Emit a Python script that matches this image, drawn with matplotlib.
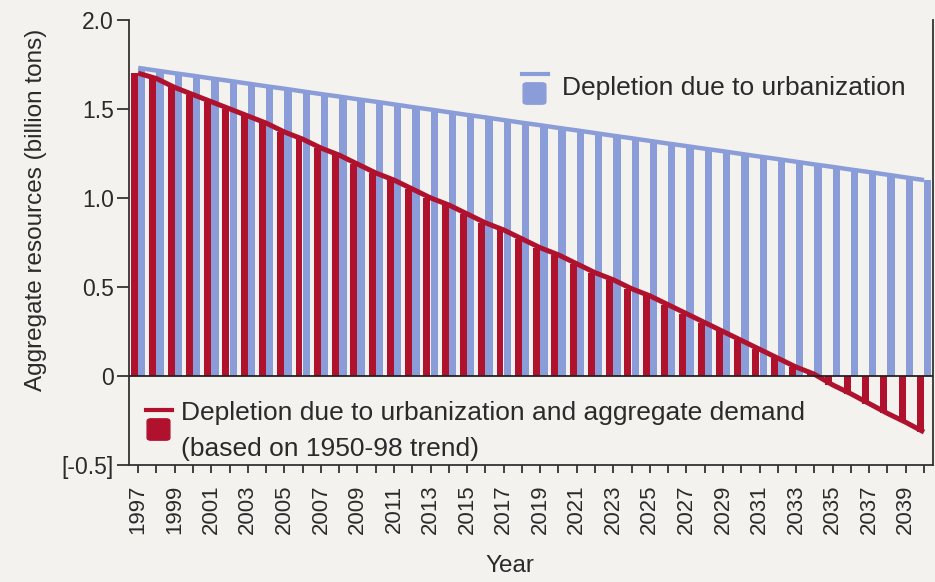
import matplotlib
matplotlib.use("Agg")
import matplotlib.pyplot as plt
from matplotlib.patches import FancyBboxPatch
import numpy as np

plt.rcParams['font.family'] = ['Liberation Sans', 'DejaVu Sans']

years = list(range(1997, 2041))
urbanization = [1.73, 1.715, 1.70, 1.686, 1.671, 1.657, 1.642, 1.627, 1.613, 1.598,
                1.583, 1.569, 1.554, 1.540, 1.525, 1.510, 1.496, 1.481, 1.466, 1.452,
                1.437, 1.422, 1.408, 1.393, 1.379, 1.364, 1.349, 1.335, 1.320, 1.305,
                1.291, 1.276, 1.262, 1.247, 1.232, 1.218, 1.203, 1.188, 1.174, 1.159,
                1.145, 1.130, 1.115, 1.10]
urban_demand = [1.70, 1.67, 1.62, 1.58, 1.54, 1.50, 1.46, 1.42, 1.37, 1.33,
                1.28, 1.24, 1.19, 1.14, 1.10, 1.05, 1.00, 0.96, 0.91, 0.86,
                0.82, 0.77, 0.72, 0.68, 0.63, 0.58, 0.54, 0.49, 0.45, 0.40,
                0.35, 0.30, 0.25, 0.20, 0.15, 0.10, 0.05, 0.01, -0.05, -0.10,
                -0.155, -0.21, -0.26, -0.315]
ytick_vals = [-0.5, 0, 0.5, 1.0, 1.5, 2.0]
ytick_labels = ['[-0.5]', '0', '0.5', '1.0', '1.5', '2.0']

BLUE = '#8b9dd8'
RED = '#b0122e'
BG = '#f3f2ee'
TXT = '#2a2a2a'

fig = plt.figure(figsize=(9.35, 5.82), dpi=100, facecolor=BG)
ax = fig.add_axes([0.138, 0.201, 0.860, 0.765], facecolor=BG)

x = np.array(years, dtype=float)
ax.bar(x + 0.2, urbanization, width=0.40, color=BLUE, zorder=2, linewidth=0)
ax.bar(x - 0.2, urban_demand, width=0.38, color=RED, zorder=3, linewidth=0)
ax.plot(x, urbanization, color=BLUE, lw=3.2, zorder=4, solid_capstyle='butt')
ax.plot(x, urban_demand, color=RED, lw=3.6, zorder=5, solid_capstyle='butt')
ax.axhline(0, color='#222222', lw=1.3, zorder=6)

ax.set_xlim(1996.5, 2040.5)
ax.set_ylim(-0.5, 2.0)

ax.spines['top'].set_visible(False)
for s in ['left', 'bottom', 'right']:
    ax.spines[s].set_color('#333333')
    ax.spines[s].set_linewidth(1.3)

ax.set_yticks(ytick_vals)
ax.set_yticklabels(ytick_labels, fontsize=16.5, color=TXT)
ax.tick_params(axis='y', direction='out', length=9, width=1.3, color='#333333', pad=2)

ax.set_xticks(years)
ax.set_xticklabels([str(y) if y % 2 == 1 else '' for y in years],
                   rotation=90, fontsize=16, color=TXT)
ax.tick_params(axis='x', direction='out', length=6, width=1.3, color='#333333', pad=8)

ax.set_ylabel('Aggregate resources (billion tons)', fontsize=17.5, color=TXT)
ax.yaxis.set_label_coords(-0.102, 0.573)
ax.set_xlabel('Year', fontsize=17.5, color=TXT)
ax.xaxis.set_label_coords(0.474, -0.202)

# Legend markers (line over rounded square)
def legend_marker(xpix, ypix, color):
    W, H = 935.0, 582.0
    fig.add_artist(plt.Line2D([xpix / W, (xpix + 26) / W], [1 - ypix / H, 1 - ypix / H],
                              color=color, lw=3, transform=fig.transFigure))
    fig.add_artist(FancyBboxPatch(((xpix + 3) / W, 1 - (ypix + 29) / H), 19 / W, 19 / H,
                                  boxstyle='round,pad=0.002,rounding_size=0.004',
                                  facecolor=color, edgecolor=color, transform=fig.transFigure))

legend_marker(522, 74, BLUE)
fig.text(562 / 935, 1 - 88 / 582, 'Depletion due to urbanization', fontsize=19,
         color=TXT, va='center', ha='left')

legend_marker(146, 410, RED)
fig.text(181 / 935, 1 - 413 / 582, 'Depletion due to urbanization and aggregate demand',
         fontsize=19, color=TXT, va='center', ha='left')
fig.text(181 / 935, 1 - 449 / 582, '(based on 1950-98 trend)',
         fontsize=19, color=TXT, va='center', ha='left')

fig.savefig('out.png', dpi=100, facecolor=BG)
